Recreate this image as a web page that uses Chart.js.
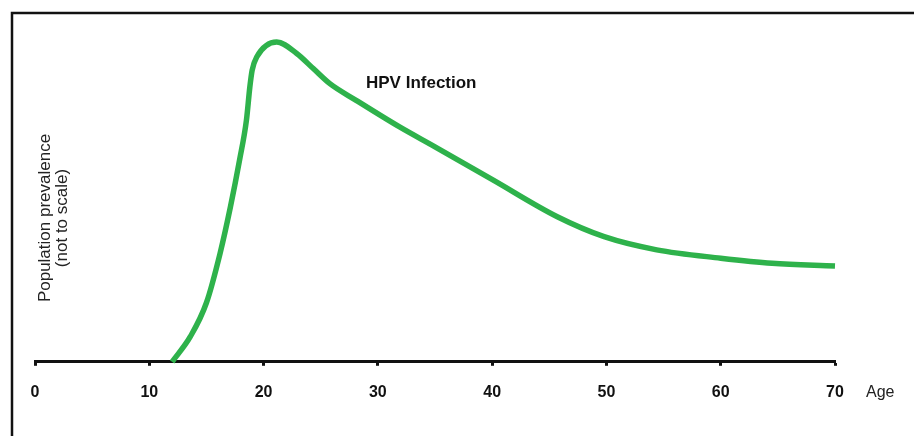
<!DOCTYPE html>
<html>
<head>
<meta charset="utf-8">
<script src="https://cdn.jsdelivr.net/npm/chart.js@4"></script>
<style>
  html, body { margin: 0; padding: 0; background: #fff; }
  #wrap { width: 914px; height: 436px; }
</style>
</head>
<body>
<div id="wrap"><canvas id="c" width="914" height="436"></canvas></div>
<script>
// Data (relative prevalence, peak = 100; not to scale)
const ages = [12, 13.6, 15.0, 16.2, 17.1, 17.9, 18.5, 18.8, 19.0, 19.4, 21.15, 22.9, 24.35, 25.8, 28.1, 31.9, 35.0, 40.1, 45.7, 49.8, 54.4, 60.0, 64.5, 70];
const prevalence = [0, 7.9, 18.4, 33.9, 48.3, 62.9, 75.3, 85.7, 90.9, 95.0, 99.7, 96.1, 91.4, 86.7, 81.5, 73.2, 67.0, 56.6, 45.2, 39.0, 34.9, 32.3, 30.7, 29.9];
const xTicks = [0, 10, 20, 30, 40, 50, 60, 70];
const seriesLabel = "HPV Infection";
const xAxisLabel = "Age";
const yAxisLabel = ["Population prevalence", "(not to scale)"];

const points = ages.map((a, i) => ({ x: a, y: prevalence[i] }));

const decor = {
  id: 'decor',
  beforeDraw(chart) {
    const ctx = chart.ctx;
    ctx.save();
    ctx.fillStyle = '#fff';
    ctx.fillRect(0, 0, chart.width, chart.height);
    ctx.strokeStyle = '#111';
    ctx.lineWidth = 2.5;
    ctx.beginPath();
    ctx.moveTo(12, 436);
    ctx.lineTo(12, 13);
    ctx.lineTo(914, 13);
    ctx.stroke();
    ctx.restore();
  },
  afterDraw(chart) {
    const ctx = chart.ctx;
    ctx.save();
    ctx.fillStyle = '#111';
    ctx.textBaseline = 'alphabetic';
    ctx.font = 'bold 17px "Liberation Sans", Arial, sans-serif';
    ctx.textAlign = 'left';
    ctx.fillText(seriesLabel, 366, 88);
    ctx.font = '16px "Liberation Sans", Arial, sans-serif';
    ctx.fillStyle = '#222';
    ctx.fillText(xAxisLabel, 866, 397);
    // rotated y-axis title
    ctx.translate(53, 218);
    ctx.rotate(-Math.PI / 2);
    ctx.textAlign = 'center';
    ctx.textBaseline = 'middle';
    ctx.font = '17px "Liberation Sans", Arial, sans-serif';
    ctx.fillText(yAxisLabel[0], 0, -8);
    ctx.fillText(yAxisLabel[1], 0, 9);
    ctx.restore();
  }
};

new Chart(document.getElementById('c'), {
  type: 'line',
  data: {
    datasets: [{
      label: seriesLabel,
      data: points,
      borderColor: '#2eb24b',
      borderWidth: 5.5,
      pointRadius: 0,
      fill: false,
      cubicInterpolationMode: 'monotone',
      clip: false,
      borderCapStyle: 'butt',
      borderJoinStyle: 'round'
    }]
  },
  options: {
    responsive: false,
    animation: false,
    devicePixelRatio: 1,
    layout: { padding: { left: 35, right: 79, top: 41, bottom: 17 } },
    plugins: { legend: { display: false }, tooltip: { enabled: false }, title: { display: false } },
    scales: {
      x: {
        type: 'linear',
        min: 0,
        max: 70,
        afterBuildTicks(scale) { scale.ticks = xTicks.map(v => ({ value: v })); },
        grid: { display: true, drawOnChartArea: false, drawTicks: true, tickLength: 4, tickWidth: 3, color: '#111' },
        border: { display: true, color: '#111', width: 3 },
        ticks: {
          color: '#111',
          padding: 17,
          maxRotation: 0,
          autoSkip: false,
          font: { family: '"Liberation Sans", Arial, sans-serif', weight: 'bold', size: 16 }
        }
      },
      y: {
        display: false,
        min: 0,
        max: 100
      }
    }
  },
  plugins: [decor]
});
</script>
</body>
</html>
